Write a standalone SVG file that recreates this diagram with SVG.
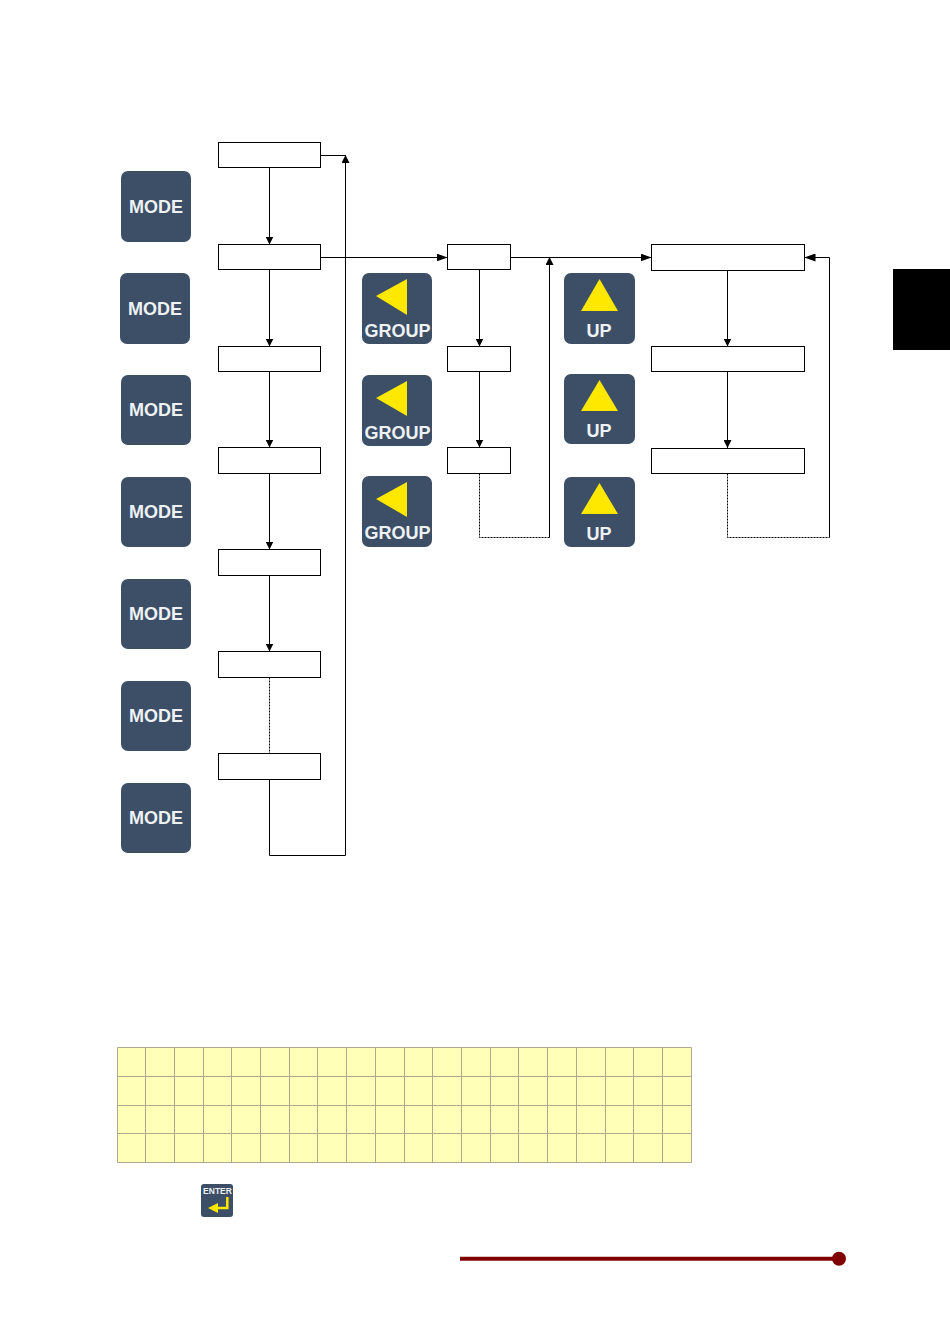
<svg xmlns="http://www.w3.org/2000/svg" width="950" height="1344" viewBox="0 0 950 1344">
<style>
.box{fill:#fff;stroke:#000;stroke-width:1}
.btn{fill:#3c4f66}
.tri{fill:#ffe800}
.lab{font-family:"Liberation Sans",Arial,sans-serif;font-weight:700;fill:#eef2f5;text-anchor:middle}
.m{font-size:18px}
.g{font-size:18px}
.u{font-size:18px}
.c{fill:none;stroke:#000;stroke-width:1}
.a{marker-end:url(#arr)}
.d{stroke-dasharray:2 1}
.h{marker-end:url(#arrh)}
.grid{fill:none;stroke:#b0a98e;stroke-width:1}
</style>
<defs>
<marker id="arr" markerUnits="userSpaceOnUse" markerWidth="8" markerHeight="8" refX="8" refY="4" orient="auto"><path d="M0 0L8 4L0 8Z" fill="#000"/></marker>
<marker id="arrh" markerUnits="userSpaceOnUse" markerWidth="11" markerHeight="8" refX="11" refY="4" orient="auto"><path d="M0 0L11 4L0 8Z" fill="#000"/></marker>
</defs>
<rect width="950" height="1344" fill="#fff"/>
<g id="connectors">
<path class="c a" d="M269.500 167.500V244.500"/>
<path class="c a" d="M269.500 269.500V346.500"/>
<path class="c a" d="M269.500 371.500V447.500"/>
<path class="c a" d="M269.500 473.500V549.500"/>
<path class="c a" d="M269.500 575.500V651.500"/>
<path class="c d" d="M269.500 677.500V753.500"/>
<path class="c" d="M269.500 779.500V855.500H345.500V165"/>
<path class="c a" d="M345.500 165V155"/>
<path class="c" d="M320.500 155.500H345.500"/>
<path class="c h" d="M320.500 257.500H447.500"/>
<path class="c a" d="M479.500 269.500V346.500"/>
<path class="c a" d="M479.500 371.500V447.500"/>
<path class="c d" d="M479.500 473.500V537.500H549.500"/>
<path class="c a" d="M549.500 537.500V257"/>
<path class="c h" d="M510.500 257.500H651.500"/>
<path class="c a" d="M727.500 270.500V346.500"/>
<path class="c a" d="M727.500 371.500V448"/>
<path class="c d" d="M727.500 473.500V537.500H829.500"/>
<path class="c" d="M829.500 537.500V257.500"/>
<path class="c h" d="M829.500 257.500H804.500"/>
</g>
<g id="n1"><rect class="box" x="218.500" y="142.500" width="102" height="25"/></g>
<g id="n2"><rect class="box" x="218.500" y="244.500" width="102" height="25"/></g>
<g id="n3"><rect class="box" x="218.500" y="346.500" width="102" height="25"/></g>
<g id="n4"><rect class="box" x="218.500" y="447.500" width="102" height="26"/></g>
<g id="n5"><rect class="box" x="218.500" y="549.500" width="102" height="26"/></g>
<g id="n6"><rect class="box" x="218.500" y="651.500" width="102" height="26"/></g>
<g id="n7"><rect class="box" x="218.500" y="753.500" width="102" height="26"/></g>
<g id="m1"><rect class="box" x="447.500" y="244.500" width="63" height="25"/></g>
<g id="m2"><rect class="box" x="447.500" y="346.500" width="63" height="25"/></g>
<g id="m3"><rect class="box" x="447.500" y="447.500" width="63" height="26"/></g>
<g id="r1"><rect class="box" x="651.500" y="244.500" width="153" height="26"/></g>
<g id="r2"><rect class="box" x="651.500" y="346.500" width="153" height="25"/></g>
<g id="r3"><rect class="box" x="651.500" y="448.500" width="153" height="25"/></g>
<g id="mode1"><rect class="btn" x="121" y="171" width="70" height="71" rx="7"/><text class="lab m" x="156" y="213">MODE</text></g>
<g id="mode2"><rect class="btn" x="120" y="273" width="70" height="71" rx="7"/><text class="lab m" x="155" y="315">MODE</text></g>
<g id="mode3"><rect class="btn" x="121" y="375" width="70" height="70" rx="7"/><text class="lab m" x="156" y="416">MODE</text></g>
<g id="mode4"><rect class="btn" x="121" y="477" width="70" height="70" rx="7"/><text class="lab m" x="156" y="518">MODE</text></g>
<g id="mode5"><rect class="btn" x="121" y="579" width="70" height="70" rx="7"/><text class="lab m" x="156" y="620">MODE</text></g>
<g id="mode6"><rect class="btn" x="121" y="681" width="70" height="70" rx="7"/><text class="lab m" x="156" y="722">MODE</text></g>
<g id="mode7"><rect class="btn" x="121" y="783" width="70" height="70" rx="7"/><text class="lab m" x="156" y="824">MODE</text></g>
<g id="group1"><rect class="btn" x="362" y="273" width="70" height="71" rx="7"/><path class="tri" d="M376 296L407 279V315Z"/><text class="lab g" x="397.500" y="337">GROUP</text></g>
<g id="group2"><rect class="btn" x="362" y="375" width="70" height="71" rx="7"/><path class="tri" d="M376 398L407 381V416Z"/><text class="lab g" x="397.500" y="439">GROUP</text></g>
<g id="group3"><rect class="btn" x="362" y="476" width="70" height="71" rx="7"/><path class="tri" d="M376 499L407 482V517Z"/><text class="lab g" x="397.500" y="539">GROUP</text></g>
<g id="up1"><rect class="btn" x="564" y="273" width="71" height="71" rx="7"/><path class="tri" d="M599.500 279L618 311H581Z"/><text class="lab u" x="599" y="337">UP</text></g>
<g id="up2"><rect class="btn" x="564" y="374" width="71" height="70" rx="7"/><path class="tri" d="M599.500 380L618 411H581Z"/><text class="lab u" x="599" y="437">UP</text></g>
<g id="up3"><rect class="btn" x="564" y="477" width="71" height="70" rx="7"/><path class="tri" d="M599.500 483L618 514H581Z"/><text class="lab u" x="599" y="540">UP</text></g>
<rect id="tab" x="893" y="269" width="57" height="81" fill="#000"/>
<g id="lcd">
<rect x="117.500" y="1047.500" width="574" height="115" fill="#ffffb8"/>
<path class="grid" d="M117.500 1047.500H691.500M117.500 1076.500H691.500M117.500 1105.500H691.500M117.500 1133.500H691.500M117.500 1162.500H691.500M117.500 1047.500V1162.500M145.500 1047.500V1162.500M174.500 1047.500V1162.500M203.500 1047.500V1162.500M231.500 1047.500V1162.500M260.500 1047.500V1162.500M289.500 1047.500V1162.500M317.500 1047.500V1162.500M346.500 1047.500V1162.500M375.500 1047.500V1162.500M404.500 1047.500V1162.500M432.500 1047.500V1162.500M461.500 1047.500V1162.500M490.500 1047.500V1162.500M518.500 1047.500V1162.500M547.500 1047.500V1162.500M576.500 1047.500V1162.500M605.500 1047.500V1162.500M633.500 1047.500V1162.500M662.500 1047.500V1162.500M691.500 1047.500V1162.500"/>
</g>
<g id="enter"><rect class="btn" x="201" y="1184" width="32" height="33" rx="3"/><text class="lab" style="font-size:8.500px" x="217.500" y="1194">ENTER</text><path d="M227.300 1197V1208H215" fill="none" stroke="#ffe800" stroke-width="2.500"/><path class="tri" d="M208 1208L218 1203V1213Z"/></g>
<g id="footer"><path d="M460 1258.700H839" stroke="#800000" stroke-width="4" fill="none"/><circle cx="839" cy="1258.700" r="7" fill="#800000"/></g>
</svg>
